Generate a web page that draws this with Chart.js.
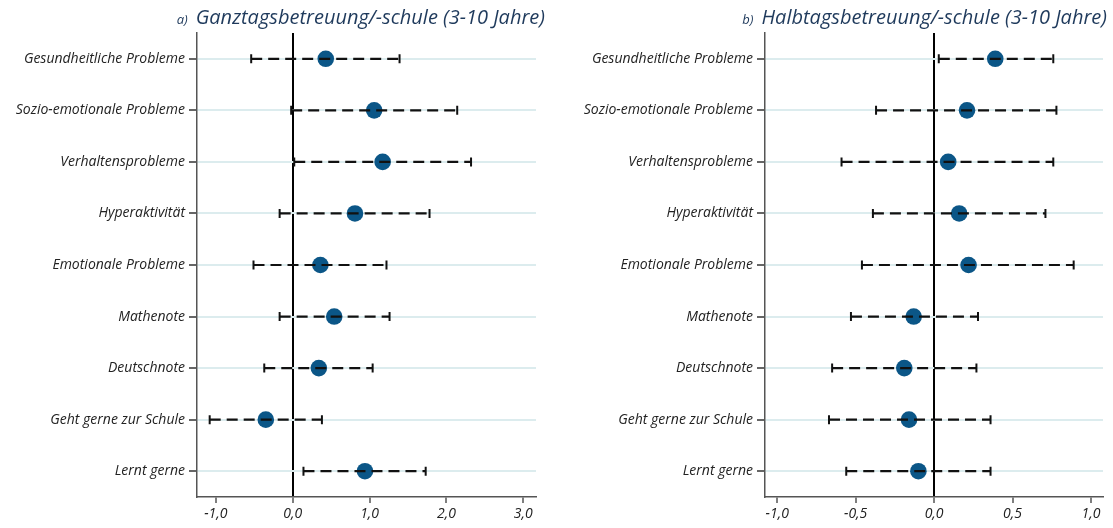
<!DOCTYPE html>
<html>
<head>
<meta charset="utf-8">
<script src="https://cdn.jsdelivr.net/npm/chart.js@4/dist/chart.umd.min.js"></script>
<style>
  html, body { margin: 0; padding: 0; background: #ffffff; }
  #wrap { position: relative; width: 1113px; height: 528px; overflow: hidden; }
  #c1 { position: absolute; left: 0; top: 0; }
  #c2 { position: absolute; left: 560px; top: 0; }
</style>
</head>
<body>
<div id="wrap">
  <canvas id="c1" width="560" height="528"></canvas>
  <canvas id="c2" width="553" height="528"></canvas>
</div>
<script>
// ---------- data ----------
const categories = [
  'Gesundheitliche Probleme',
  'Sozio-emotionale Probleme',
  'Verhaltensprobleme',
  'Hyperaktivität',
  'Emotionale Probleme',
  'Mathenote',
  'Deutschnote',
  'Geht gerne zur Schule',
  'Lernt gerne'
];

// Panel a) Ganztagsbetreuung/-schule
const ganztagEst  = [0.43, 1.06, 1.17, 0.81, 0.36, 0.54, 0.34, -0.35, 0.94];
const ganztagLow  = [-0.54, -0.02, 0.02, -0.17, -0.51, -0.17, -0.37, -1.08, 0.14];
const ganztagHigh = [1.39, 2.14, 2.32, 1.78, 1.22, 1.26, 1.04, 0.38, 1.73];

// Panel b) Halbtagsbetreuung/-schule
const halbtagEst  = [0.39, 0.21, 0.09, 0.16, 0.22, -0.13, -0.19, -0.16, -0.10];
const halbtagLow  = [0.03, -0.37, -0.59, -0.39, -0.46, -0.53, -0.65, -0.67, -0.56];
const halbtagHigh = [0.76, 0.78, 0.76, 0.71, 0.89, 0.28, 0.27, 0.36, 0.36];

const ganztagTicks = [-1, 0, 1, 2, 3];
const ganztagTickLabels = ['-1,0', '0,0', '1,0', '2,0', '3,0'];
const halbtagTicks = [-1, -0.5, 0, 0.5, 1];
const halbtagTickLabels = ['-1,0', '-0,5', '0,0', '0,5', '1,0'];

const ganztagTitle = ['a)', 'Ganztagsbetreuung/-schule (3-10 Jahre)'];
const halbtagTitle = ['b)', 'Halbtagsbetreuung/-schule (3-10 Jahre)'];

// ---------- styling ----------
const FONT = "'Open Sans', 'DejaVu Sans', sans-serif";
const DOT_COLOR = '#0b5687';
const TITLE_COLOR = '#1f3a5c';
const GRID_COLOR = '#dcecee';
const AXIS_COLOR = '#555555';

const titlePlugin = {
  id: 'panelTitle',
  afterDraw(chart, args, opts) {
    const ctx = chart.ctx;
    ctx.save();
    ctx.fillStyle = TITLE_COLOR;
    ctx.textBaseline = 'alphabetic';
    ctx.font = 'italic 20px ' + FONT;
    const mainW = ctx.measureText(opts.text[1]).width;
    const xMainStart = opts.right - mainW;
    ctx.textAlign = 'left';
    ctx.fillText(opts.text[1], xMainStart, 24);
    ctx.font = 'italic 13px ' + FONT;
    const preW = ctx.measureText(opts.text[0]).width;
    ctx.fillText(opts.text[0], xMainStart - 8 - preW, 24);
    ctx.restore();
  }
};

function makeChart(canvasId, est, low, high, ticks, tickLabels, xmin, xmax, yWidth, padRight, titleText, titleRight) {
  const datasets = [];
  categories.forEach((cat, i) => {
    datasets.push({
      type: 'line',
      data: [{ x: low[i], y: cat }, { x: high[i], y: cat }],
      borderColor: '#111111',
      borderWidth: 2.2,
      borderDash: [11, 6],
      pointStyle: 'line',
      pointRotation: 90,
      pointRadius: 4.5,
      pointBorderWidth: 2,
      pointBorderColor: '#111111',
      pointBackgroundColor: '#111111',
      fill: false
    });
  });
  datasets.push({
    type: 'line',
    data: categories.map((cat, i) => ({ x: est[i], y: cat })),
    showLine: false,
    pointStyle: 'circle',
    pointRadius: 8.3,
    pointBorderWidth: 0,
    pointBackgroundColor: DOT_COLOR,
    pointBorderColor: DOT_COLOR
  });

  return new Chart(document.getElementById(canvasId), {
    type: 'line',
    data: { datasets },
    plugins: [titlePlugin],
    options: {
      responsive: false,
      animation: false,
      devicePixelRatio: 1,
      layout: { padding: { top: 33, right: padRight, left: 0, bottom: 0 } },
      plugins: {
        legend: { display: false },
        tooltip: { enabled: false },
        title: { display: false },
        panelTitle: { text: titleText, right: titleRight }
      },
      scales: {
        x: {
          type: 'linear',
          min: xmin,
          max: xmax,
          afterBuildTicks: (scale) => { scale.ticks = ticks.map(v => ({ value: v })); },
          afterFit: (scale) => { scale.height = 31; },
          ticks: {
            autoSkip: false,
            maxRotation: 0,
            padding: 3,
            color: '#222222',
            font: { family: FONT, size: 14, style: 'italic' },
            callback: (v) => { const k = ticks.indexOf(v); return k >= 0 ? tickLabels[k] : ''; }
          },
          grid: {
            drawOnChartArea: true,
            color: (c) => (c.tick && c.tick.value === 0) ? '#000000' : 'rgba(0,0,0,0)',
            lineWidth: 2,
            drawTicks: true,
            tickLength: 6,
            tickColor: AXIS_COLOR,
            tickWidth: 1.5
          },
          border: { display: true, color: AXIS_COLOR, width: 1.5 }
        },
        y: {
          type: 'category',
          labels: categories,
          offset: true,
          afterFit: (scale) => { scale.width = yWidth; },
          ticks: {
            padding: 4,
            color: '#222222',
            font: { family: FONT, size: 14, style: 'italic' }
          },
          grid: {
            offset: false,
            color: GRID_COLOR,
            lineWidth: 2,
            drawTicks: true,
            tickLength: 8,
            tickColor: '#333333',
            tickWidth: 1.5
          },
          border: { display: true, color: AXIS_COLOR, width: 1.5 }
        }
      }
    }
  });
}

makeChart('c1', ganztagEst, ganztagLow, ganztagHigh, ganztagTicks, ganztagTickLabels,
  -1.245, 3.165, 197, 24, ganztagTitle, 545);
makeChart('c2', halbtagEst, halbtagLow, halbtagHigh, halbtagTicks, halbtagTickLabels,
  -1.078, 1.077, 205, 10, halbtagTitle, 547);
</script>
</body>
</html>
